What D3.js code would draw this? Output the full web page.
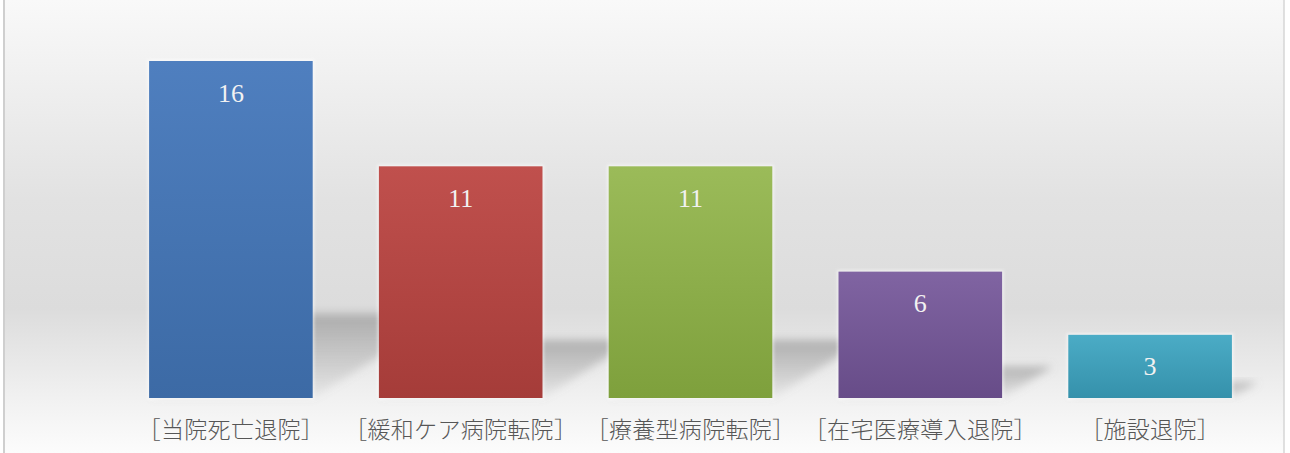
<!DOCTYPE html>
<html>
<head>
<meta charset="utf-8">
<script src="https://cdn.jsdelivr.net/npm/d3@7"></script>
<style>
  html, body { margin: 0; padding: 0; background: #ffffff; }
  svg { display: block; }
</style>
</head>
<body>
<svg id="chart" width="1290" height="453"></svg>
<script>
// Discharge outcome counts
const categories = ["［当院死亡退院］", "［緩和ケア病院転院］", "［療養型病院転院］", "［在宅医療導入退院］", "［施設退院］"];
const values = [16, 11, 11, 6, 3];
const barTop = ["#4f7fbf", "#c0504d", "#9bbb59", "#8064a2", "#4bacc6"];
const barBottom = ["#3c6aa5", "#a53c39", "#7ea03c", "#674c88", "#3591ab"];

const W = 1290, H = 453;
const svg = d3.select("#chart");
const defs = svg.append("defs");

// Panel background: soft vertical grey gradient
const bg = defs.append("linearGradient").attr("id", "bg")
  .attr("x1", 0).attr("y1", 0).attr("x2", 0).attr("y2", 1);
[[0, "#f9f9f9"], [0.44, "#e2e2e2"], [0.68, "#dcdcdc"], [0.88, "#f1f1f1"], [1, "#fcfcfc"]]
  .forEach(([o, c]) => bg.append("stop").attr("offset", o).attr("stop-color", c));

svg.append("rect").attr("x", 4).attr("y", 0).attr("width", 1280).attr("height", H)
  .attr("fill", "url(#bg)");
svg.append("line").attr("x1", 4).attr("x2", 4).attr("y1", 0).attr("y2", H)
  .attr("stroke", "#cfcfcf").attr("stroke-width", 2);
svg.append("line").attr("x1", 1284).attr("x2", 1284).attr("y1", 0).attr("y2", H)
  .attr("stroke", "#d6d6d6").attr("stroke-width", 1.5);

// Scales
const x = d3.scaleBand().domain(categories).range([116, 1265])
  .paddingInner(0.288).paddingOuter(0.144);
const y = d3.scaleLinear().domain([0, d3.max(values)]).range([398, 61]);

// Bar fill gradients
categories.forEach((c, i) => {
  const g = defs.append("linearGradient").attr("id", "bar" + i)
    .attr("x1", 0).attr("y1", 0).attr("x2", 0).attr("y2", 1);
  g.append("stop").attr("offset", 0).attr("stop-color", barTop[i]);
  g.append("stop").attr("offset", 1).attr("stop-color", barBottom[i]);
});

// Perspective shadow styling
const sg = defs.append("linearGradient").attr("id", "shade")
  .attr("x1", 0).attr("y1", 0).attr("x2", 0).attr("y2", 1);
sg.append("stop").attr("offset", 0).attr("stop-color", "#858585").attr("stop-opacity", 0.55);
sg.append("stop").attr("offset", 1).attr("stop-color", "#858585").attr("stop-opacity", 0.08);
const blur = defs.append("filter").attr("id", "soft")
  .attr("x", "-30%").attr("y", "-30%").attr("width", "160%").attr("height", "160%");
blur.append("feGaussianBlur").attr("stdDeviation", 4.5);
const glow = defs.append("filter").attr("id", "glow")
  .attr("x", "-10%").attr("y", "-10%").attr("width", "120%").attr("height", "120%");
glow.append("feGaussianBlur").attr("stdDeviation", 1.5);

const data = categories.map((c, i) => ({ c, v: values[i], i }));
const base = y(0);

// Shadows cast behind each bar, skewed to the right
svg.append("g").selectAll("polygon").data(data).join("polygon")
  .attr("points", d => {
    const x0 = x(d.c), x1 = x0 + x.bandwidth();
    const sh = (base - y(d.v)) * 0.25, sk = sh * 1.6;
    return [[x0, base], [x1, base], [x1 + sk, base - sh], [x0 + sk, base - sh]]
      .map(p => p.join(",")).join(" ");
  })
  .attr("fill", "url(#shade)")
  .attr("filter", "url(#soft)");

// Light halo around bars
svg.append("g").selectAll("rect").data(data).join("rect")
  .attr("x", d => x(d.c) - 1.5)
  .attr("y", d => y(d.v) - 1.5)
  .attr("width", x.bandwidth() + 3)
  .attr("height", d => base - y(d.v) + 3)
  .attr("fill", "#ffffff").attr("opacity", 0.55)
  .attr("filter", "url(#glow)");

// Bars
svg.append("g").selectAll("rect").data(data).join("rect")
  .attr("x", d => x(d.c))
  .attr("y", d => y(d.v))
  .attr("width", x.bandwidth())
  .attr("height", d => base - y(d.v))
  .attr("fill", d => "url(#bar" + d.i + ")");

// Value labels inside bars
svg.append("g").selectAll("text").data(data).join("text")
  .attr("x", d => x(d.c) + x.bandwidth() / 2)
  .attr("y", d => y(d.v) + 32)
  .attr("text-anchor", "middle")
  .attr("dominant-baseline", "central")
  .attr("font-family", "'Liberation Serif', 'DejaVu Serif', serif")
  .attr("font-size", 26)
  .attr("fill", "#f2f2f2")
  .text(d => d.v);

// Category axis labels
const xAxis = d3.axisBottom(x).tickSize(0).tickPadding(0);
const ax = svg.append("g").attr("transform", `translate(0, ${base})`).call(xAxis);
ax.select(".domain").remove();
ax.selectAll("text")
  .attr("y", 32)
  .attr("dy", "0.35em")
  .attr("font-family", "'Noto Sans CJK JP', sans-serif")
  .attr("font-size", 23)
  .attr("font-weight", 300)
  .attr("letter-spacing", 0.3)
  .attr("fill", "#565656");
</script>
</body>
</html>
